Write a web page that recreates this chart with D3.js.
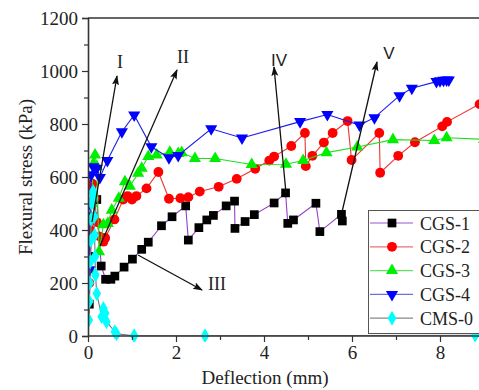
<!DOCTYPE html>
<html>
<head>
<meta charset="utf-8">
<script src="https://cdn.jsdelivr.net/npm/d3@7"></script>
</head>
<body style="margin:0">
<div id="graphic"></div>
<script>

// deflection (mm), flexural stress (kPa)
var cgs1 = [
  [0,0],[0.03,120],[0.06,300],[0.1,450],[0.2,515],[0.3,264],[0.4,214],[0.52,214],[0.61,226],
  [0.82,260],[1.01,290],[1.22,327],[1.37,354],[1.67,416],[1.91,450],[2.22,491],[2.28,362],
  [2.52,409],[2.7,438],[2.85,455],[3.14,491],[3.33,509],[3.34,406],[3.57,432],[3.78,458],
  [4.23,502],[4.49,540],[4.54,425],[4.67,438],[5.18,501],[5.27,394],[5.76,459],[5.78,434]
];
var cgs2 = [
  [0,0],[0.03,200],[0.05,400],[0.08,560],[0.1,575],[0.15,520],[0.2,430],[0.27,375],[0.35,356],
  [0.39,370],[0.6,440],[0.8,515],[0.9,528],[1.0,515],[1.1,528],[1.33,557],[1.6,619],[1.84,518],
  [2.1,520],[2.28,524],[2.54,545],[2.97,563],[3.38,593],[3.8,631],[4.12,662],[4.23,677],
  [4.62,717],[4.93,766],[4.95,641],[5.1,680],[5.36,730],[5.56,766],[5.9,811],[5.99,664],
  [6.62,766],[6.64,616],[7.05,680],[7.43,731],[8.05,791],[8.16,808],[8.9,875]
];
var cgs3 = [
  [0,0],[0.04,250],[0.08,500],[0.12,650],[0.16,683],[0.2,640],[0.25,318],[0.35,420],[0.45,425],
  [0.54,475],[0.7,520],[0.84,582],[0.95,565],[1.14,614],[1.22,633],[1.37,677],[1.56,683],
  [1.86,693],[2.05,689],[2.13,692],[2.43,670],[2.89,670],[3.72,647],[4.5,648],[4.89,662],
  [5.42,692],[6.12,713],[6.93,741],[7.87,738],[8.15,748],[9.0,742]
];
var cgs4 = [
  [0,0],[0.03,250],[0.05,500],[0.07,608],[0.12,639],[0.2,633],[0.27,598],[0.44,662],[0.77,771],
  [1.05,834],[1.44,714],[1.84,673],[2.05,681],[2.8,782],[3.5,747],[4.82,809],[5.44,836],
  [6.17,796],[6.51,824],[7.08,907],[7.36,935],[7.92,960],[8.0,963],[8.08,965],[8.15,966],[8.2,966]
];
var cms0 = [
  [0,0],[0.02,60],[0.03,130],[0.04,200],[0.05,280],[0.06,360],[0.07,440],[0.08,500],[0.1,540],
  [0.12,545],[0.13,520],[0.14,450],[0.15,380],[0.16,300],[0.17,230],[0.2,160],[0.31,73],
  [0.35,104],[0.39,86],[0.42,54],[0.61,16],[0.65,8],[1.05,1],[2.66,1],[8.8,3]
];

var seriesNames = ["CGS-1", "CGS-2", "CGS-3", "CGS-4", "CMS-0"];
var xTicks = [0, 2, 4, 6, 8];
var yTicks = [0, 200, 400, 600, 800, 1000, 1200];

var serifFont = "'Liberation Serif', 'Times New Roman', serif";
var sansFont = "'Liberation Sans', Arial, sans-serif";

function setFont(sel, fam, size){
    sel.attr("font-family", fam)
       .attr("font-size", size)
       .style("font-family", fam)
       .style("font-size", size + "px")
       .attr("fill", "#222");
}

function drawChart(){
    var w = 479, h = 390;
    var padLeft = 88, padTop = 18, padBottom = 336, padRight = 484;

    var svg = d3.select("#graphic")
        .append("svg")
        .attr("width", w)
        .attr("height", h);

    var xScale = d3.scaleLinear().domain([0, 9]).range([padLeft, padRight]);
    var yScale = d3.scaleLinear().domain([0, 1200]).range([padBottom, padTop]);

    var defs = svg.append("defs");
    defs.append("clipPath").attr("id", "plot")
       .append("rect").attr("x", padLeft).attr("y", padTop - 6)
       .attr("width", padRight - padLeft).attr("height", padBottom - padTop + 12);

    defs.append("marker")
       .attr("id", "arrow")
       .attr("viewBox", "0 0 10 10")
       .attr("refX", 9).attr("refY", 5)
       .attr("markerWidth", 10).attr("markerHeight", 10)
       .attr("markerUnits", "userSpaceOnUse")
       .attr("orient", "auto")
       .append("path").attr("d", "M0,1.5 L10,5 L0,8.5 L2,5 Z").attr("fill", "#111");

    var styles = [
      { data: cgs1, line: "#9440cc", legendLine: "#9a55d0", fill: "#000", sym: d3.symbolSquare, size: 76, rot: 0 },
      { data: cgs2, line: "#ee3333", legendLine: "#f07070", fill: "#ff0000", sym: d3.symbolCircle, size: 76, rot: 0 },
      { data: cgs3, line: "#22dd22", legendLine: "#66e066", fill: "#00ee00", sym: d3.symbolTriangle, size: 64, rot: 0 },
      { data: cgs4, line: "#1a1aee", legendLine: "#7070e0", fill: "#0000ff", sym: d3.symbolTriangle, size: 64, rot: 180 },
      { data: cms0, line: "#777", legendLine: "#888", fill: "#00ffff", sym: d3.symbolDiamond, size: 64, rot: 0 }
    ];

    var line = d3.line()
        .x(function(d){ return xScale(d[0]); })
        .y(function(d){ return yScale(d[1]); });

    var plot = svg.append("g").attr("clip-path", "url(#plot)");

    styles.forEach(function(s){
        plot.append("path")
            .attr("d", line(s.data))
            .attr("fill", "none")
            .attr("stroke", s.line)
            .attr("stroke-width", 1.1);
        plot.selectAll(null)
            .data(s.data.slice(1))
            .enter()
            .append("path")
            .attr("d", d3.symbol().type(s.sym).size(s.size))
            .attr("transform", function(d){
                return "translate(" + xScale(d[0]) + "," + yScale(d[1]) + ") rotate(" + s.rot + ")";
            })
            .attr("fill", s.fill);
    });

    // axes
    var xAxis = svg.append("g")
       .attr("transform", "translate(0," + padBottom + ")")
       .call(d3.axisBottom(xScale).tickValues(xTicks).tickSize(6).tickPadding(4).tickFormat(d3.format("d")));
    svg.append("g")
       .attr("transform", "translate(0," + padBottom + ")")
       .call(d3.axisBottom(xScale).tickValues([1, 3, 5, 7]).tickSize(4).tickFormat(""))
       .select(".domain").remove();
    svg.append("g")
       .attr("transform", "translate(" + padLeft + ",0)")
       .call(d3.axisLeft(yScale).tickValues(yTicks).tickSize(6).tickPadding(4).tickFormat(d3.format("d")));
    svg.append("g")
       .attr("transform", "translate(" + padLeft + ",0)")
       .call(d3.axisLeft(yScale).tickValues([100, 300, 500, 700, 900, 1100]).tickSize(4).tickFormat(""))
       .select(".domain").remove();

    svg.selectAll("g").attr("font-family", null).attr("font-size", null);
    setFont(svg.selectAll(".tick text"), serifFont, 19);
    svg.selectAll(".tick line").attr("stroke", "#333").attr("stroke-width", 1.2);
    svg.selectAll(".domain").attr("stroke", "#333").attr("stroke-width", 1.6);
    xAxis.selectAll(".domain").attr("d", "M" + padLeft + ",0H" + w);

    svg.append("line")
       .attr("x1", padLeft).attr("x2", w)
       .attr("y1", padTop).attr("y2", padTop)
       .attr("stroke", "#333").attr("stroke-width", 1.6);

    setFont(svg.append("text")
       .attr("x", 265).attr("y", 384)
       .attr("text-anchor", "middle")
       .text("Deflection (mm)"), serifFont, 19);
    setFont(svg.append("text")
       .attr("transform", "translate(32,177) rotate(-90)")
       .attr("text-anchor", "middle")
       .text("Flexural stress (kPa)"), serifFont, 19);

    // annotation arrows
    var notes = [
      { from: [92, 222], to: [117, 76], label: "I", lx: 120, ly: 68, sans: false },
      { from: [100, 246], to: [177, 70], label: "II", lx: 183, ly: 63, sans: false },
      { from: [138, 255], to: [202, 290], label: "III", lx: 217, ly: 290, sans: false },
      { from: [286, 193], to: [274, 67], label: "IV", lx: 279, ly: 66, sans: true },
      { from: [342, 212], to: [377, 62], label: "V", lx: 389, ly: 59, sans: true }
    ];
    notes.forEach(function(n){
        svg.append("line")
           .attr("x1", n.from[0]).attr("y1", n.from[1])
           .attr("x2", n.to[0]).attr("y2", n.to[1])
           .attr("stroke", "#111").attr("stroke-width", 1.3)
           .attr("marker-end", "url(#arrow)");
        setFont(svg.append("text")
           .attr("x", n.lx).attr("y", n.ly)
           .attr("text-anchor", "middle")
           .text(n.label), n.sans ? sansFont : serifFont, n.sans ? 17 : 18);
    });

    // legend
    var legend = svg.append("g");
    legend.append("rect")
       .attr("x", 368.5).attr("y", 210.5)
       .attr("width", 120).attr("height", 123)
       .attr("fill", "#fff").attr("stroke", "#555").attr("stroke-width", 1);
    styles.forEach(function(s, i){
        var y = 223 + i * 23.8;
        legend.append("line")
           .attr("x1", 370).attr("x2", 413).attr("y1", y).attr("y2", y)
           .attr("stroke", s.legendLine).attr("stroke-width", 1.2);
        legend.append("path")
           .attr("d", d3.symbol().type(s.sym).size(s.size))
           .attr("transform", "translate(392," + y + ") rotate(" + s.rot + ")")
           .attr("fill", s.fill);
        setFont(legend.append("text")
           .attr("x", 420).attr("y", y + 6.5)
           .text(seriesNames[i]), serifFont, 18);
    });
}

drawChart();
</script>
</body>
</html>
